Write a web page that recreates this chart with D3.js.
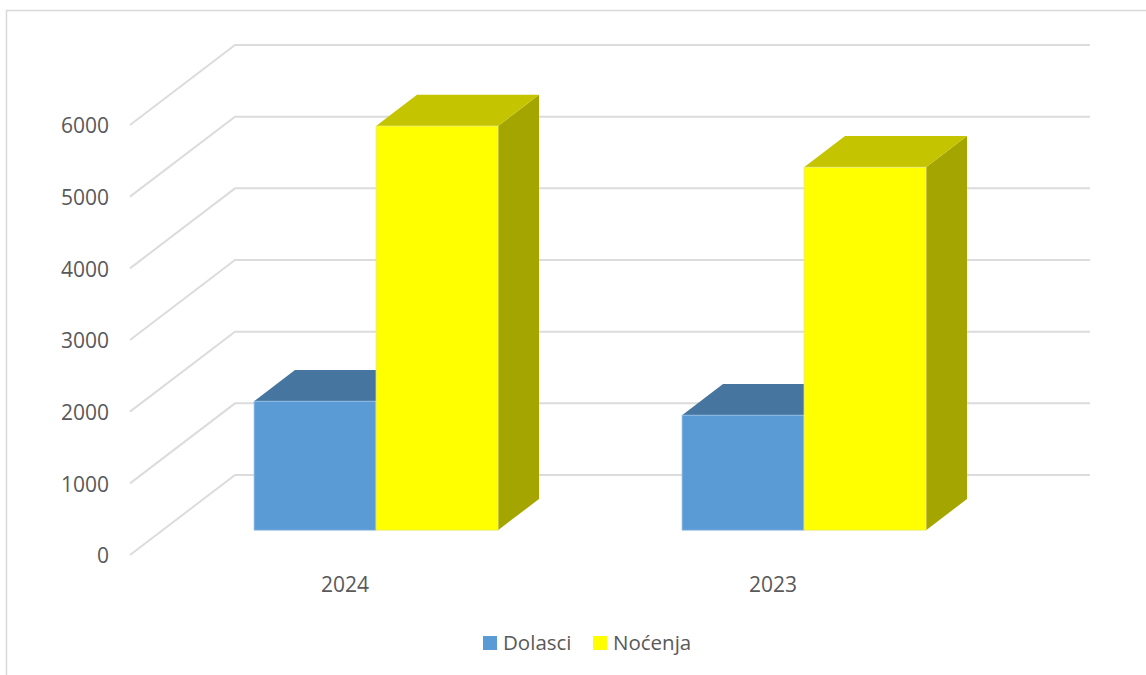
<!DOCTYPE html>
<html>
<head>
<meta charset="utf-8">
<script src="https://cdn.jsdelivr.net/npm/d3@7"></script>
<style>
    html, body { margin: 0; padding: 0; background: #fff; }
    svg { display: block; }
    text { font-family: "Open Sans", sans-serif; fill: #595959; }
</style>
</head>
<body>
<svg id="chart" width="1146" height="675"></svg>
<script>
const years = ['2024', '2023'];
const seriesNames = ['Dolasci', 'Nocenja'];
const seriesLabels = ['Dolasci', 'Noćenja'];
const dolasci = [1800, 1605];
const nocenja = [5640, 5065];
const yTicks = [0, 1000, 2000, 3000, 4000, 5000, 6000];

const front = { left: 130, right: 986, zero: 555, top: 125 };
const DEPTH_X = 105, DEPTH_Y = 80;    // front of the floor to the back wall
const BAR_NEAR = 0.31, BAR_FAR = 0.70; // where the bars sit in that depth

const colors = {
    Dolasci: { front: '#5b9bd5', top: '#4675a0', side: '#3f6c96', edge: '#9cc3e6' },
    Nocenja: { front: '#ffff00', top: '#c4c400', side: '#a5a500', edge: '#e8e88a' }
};

const svg = d3.select('#chart');

// the frame of the pasted chart, open at the right and bottom
svg.append('path')
    .attr('d', 'M1146,10.5H6.5V675')
    .attr('fill', 'none')
    .attr('stroke', '#d9d9d9')
    .attr('stroke-width', 1.5);

const x0 = d3.scaleBand().domain(years).range([front.left, front.right]);
const x1 = d3.scaleBand().domain(seriesNames).range([0, 244]);
const y = d3.scaleLinear().domain([0, 6000]).range([front.zero, front.top]);

// gridlines: from the front edge up to the back wall, then across it
const gridLine = (v) => {
    const d = d3.path();
    d.moveTo(front.left, y(v));
    d.lineTo(front.left + DEPTH_X, y(v) - DEPTH_Y);
    d.lineTo(front.right + DEPTH_X - 1, y(v) - DEPTH_Y);
    return d.toString();
};
svg.append('g').selectAll('path')
    .data(yTicks)
    .join('path')
    .attr('d', gridLine)
    .attr('fill', 'none')
    .attr('stroke', '#dcdcdc')
    .attr('stroke-width', 2);

// one 3D bar, front face + top + right side
function drawBar(year, name, value) {
    const c = colors[name];
    const nx = DEPTH_X * BAR_NEAR, ny = DEPTH_Y * BAR_NEAR;
    const dx = DEPTH_X * (BAR_FAR - BAR_NEAR), dy = DEPTH_Y * (BAR_FAR - BAR_NEAR);
    const left = x0(year) + (x0.bandwidth() - 244) / 2 + x1(name) + nx - 0.5;
    const right = left + x1.bandwidth();
    const top = y(value) - ny, bottom = y(0) - ny;
    const g = svg.append('g').attr('class', 'bar');

    g.append('polygon')
        .attr('points', [[right, top], [right + dx, top - dy], [right + dx, bottom - dy], [right, bottom]].join(' '))
        .attr('fill', c.side);
    g.append('polygon')
        .attr('points', [[left, top], [left + dx, top - dy], [right + dx, top - dy], [right, top]].join(' '))
        .attr('fill', c.top);
    g.append('rect')
        .attr('x', left)
        .attr('y', top)
        .attr('width', right - left)
        .attr('height', bottom - top)
        .attr('fill', c.front)
        .attr('stroke', c.edge)
        .attr('stroke-width', 0.75);
}

years.forEach((year, i) => {
    drawBar(year, 'Dolasci', dolasci[i]);
    drawBar(year, 'Nocenja', nocenja[i]);
});

const yAxis = svg.append('g')
    .attr('transform', `translate(109,1)`)
    .call(d3.axisLeft(y).tickValues(yTicks).tickSize(0).tickPadding(0).tickFormat(d3.format('d')));
yAxis.select('.domain').remove();
yAxis.selectAll('text').style('font-size', '21px').attr('fill', '#595959');

const xAxis = svg.append('g')
    .attr('transform', `translate(1,577)`)
    .call(d3.axisBottom(x0).tickSize(0).tickPadding(0));
xAxis.select('.domain').remove();
xAxis.selectAll('text').style('font-size', '21px').attr('fill', '#595959');

// legend
const legendX = [483, 593];
const legend = svg.append('g').selectAll('g')
    .data(seriesNames)
    .join('g')
    .attr('transform', (d, i) => `translate(${legendX[i]},636)`);
legend.append('rect')
    .attr('width', 14)
    .attr('height', 14)
    .attr('fill', d => colors[d].front);
legend.append('text')
    .attr('x', 20)
    .attr('y', 14)
    .style('font-size', '20.5px')
    .text((d, i) => seriesLabels[i]);
</script>
</body>
</html>
